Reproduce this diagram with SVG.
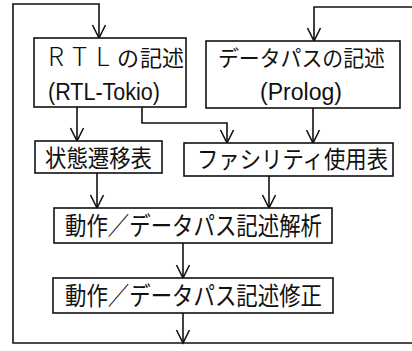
<svg xmlns="http://www.w3.org/2000/svg" width="412" height="351" viewBox="0 0 412 351">
<style>
.box{fill:#fff;stroke:#111;stroke-width:1.6}
.ln{fill:none;stroke:#111;stroke-width:1.6}
.jp{font-family:"Noto Sans CJK JP","Noto Sans",sans-serif;fill:#111}
.en{font-family:"Liberation Sans","DejaVu Sans",sans-serif;fill:#111}
</style>
<defs>
<marker id="ah" markerUnits="userSpaceOnUse" markerWidth="20" markerHeight="20" viewBox="-15 -10 20 20" refX="0" refY="0" orient="auto" overflow="visible">
<path d="M-13,-6.5 L0,0 L-13,6.5" fill="none" stroke="#111" stroke-width="1.6"/>
</marker>
</defs>
<rect width="412" height="351" fill="#fff"/>
<g id="connectors">
<path class="ln" d="M412,343 H13 V4 H99 V38" marker-end="url(#ah)"/>
<path class="ln" d="M412,7 H314 V41" marker-end="url(#ah)"/>
<path class="ln" d="M77,107 V141" marker-end="url(#ah)"/>
<path class="ln" d="M142,107 V123 H227 V143" marker-end="url(#ah)"/>
<path class="ln" d="M313,108 V143" marker-end="url(#ah)"/>
<path class="ln" d="M97,173 V208" marker-end="url(#ah)"/>
<path class="ln" d="M269,176 V208" marker-end="url(#ah)"/>
<path class="ln" d="M183,243 V278" marker-end="url(#ah)"/>
<path class="ln" d="M183,313 V343" marker-end="url(#ah)"/>
</g>
<g id="rtl">
<rect class="box" x="34" y="38" width="152" height="69"/>
<text class="jp" y="66" font-size="22"><tspan x="48 72 96" font-size="26" font-weight="300">RTL</tspan><tspan x="117 140 162">の記述</tspan></text>
<text class="en" x="48" y="100" font-size="23" textLength="112" lengthAdjust="spacingAndGlyphs">(RTL-Tokio)</text>
</g>
<g id="datapath">
<rect class="box" x="206" y="41" width="194" height="67"/>
<text class="jp" x="218" y="66" font-size="22" textLength="167" lengthAdjust="spacingAndGlyphs">データパスの記述</text>
<text class="en" x="260" y="100" font-size="23" textLength="82" lengthAdjust="spacingAndGlyphs">(Prolog)</text>
</g>
<g id="state">
<rect class="box" x="35" y="141" width="127" height="32"/>
<text class="jp" x="45" y="167" font-size="24" textLength="107" lengthAdjust="spacingAndGlyphs">状態遷移表</text>
</g>
<g id="facility">
<rect class="box" x="184" y="143" width="209" height="33"/>
<text class="jp" x="197" y="168" font-size="24" textLength="191" lengthAdjust="spacingAndGlyphs">ファシリティ使用表</text>
</g>
<g id="analysis">
<rect class="box" x="54" y="208" width="278" height="35"/>
<text class="jp" x="65" y="235" font-size="25" textLength="257" lengthAdjust="spacingAndGlyphs">動作／データパス記述解析</text>
</g>
<g id="correction">
<rect class="box" x="53" y="278" width="280" height="35"/>
<text class="jp" x="65" y="305" font-size="25" textLength="257" lengthAdjust="spacingAndGlyphs">動作／データパス記述修正</text>
</g>
</svg>
